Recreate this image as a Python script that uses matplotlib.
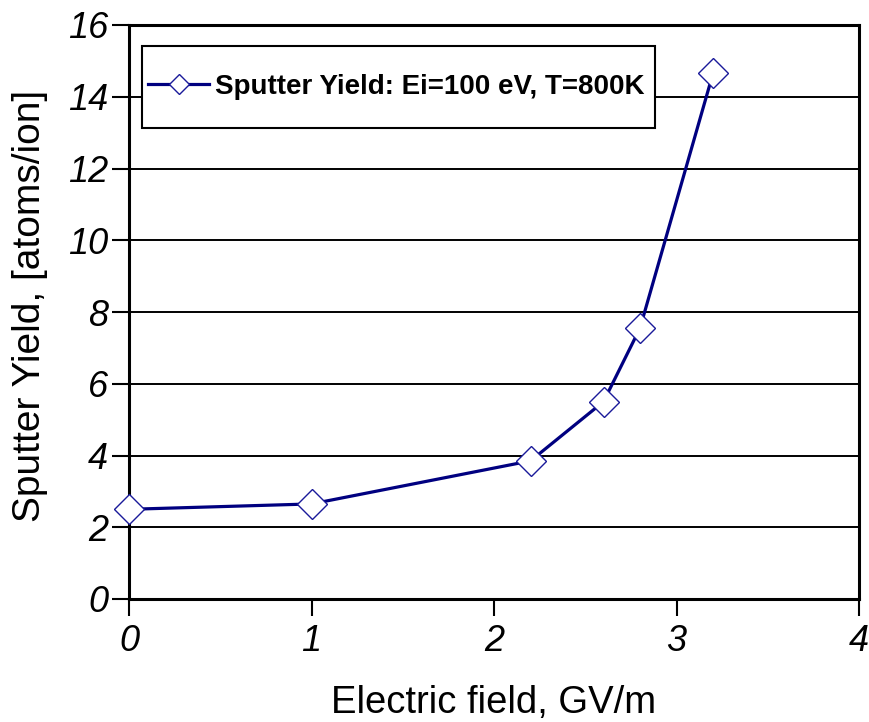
import matplotlib
matplotlib.use("Agg")
import matplotlib.pyplot as plt
from matplotlib.patches import Rectangle

field = [0.0, 1.0, 2.2, 2.6, 2.8, 3.2]
yield_vals = [2.5, 2.65, 3.85, 5.5, 7.55, 14.65]
series_label = "Sputter Yield: Ei=100 eV, T=800K"
x_ticks = [0, 1, 2, 3, 4]
y_ticks = [0, 2, 4, 6, 8, 10, 12, 14, 16]

plt.rcParams['font.family'] = ['Liberation Sans', 'DejaVu Sans']

W, H = 869, 722
fig = plt.figure(figsize=(W/100, H/100), dpi=100)
L, R, T, B = 129, 859, 25, 599
ax = fig.add_axes([L/W, 1-B/H, (R-L)/W, (B-T)/H])

for yv in y_ticks[1:-1]:
    ax.axhline(yv, color='black', lw=1.4, zorder=1)

ax.plot(field, yield_vals, color='#000080', lw=2.3, marker='D', markersize=15,
        markerfacecolor='white', markeredgecolor='#1a1a9a', markeredgewidth=1.0,
        label=series_label, zorder=3, clip_on=False)

ax.set_xlim(0, 4)
ax.set_ylim(0, 16)
ax.set_xticks(x_ticks)
ax.set_yticks(y_ticks)
ax.set_xticklabels([str(v) for v in x_ticks], fontsize=26, style='italic')
ax.set_yticklabels([str(v) for v in y_ticks], fontsize=26, style='italic')
ax.tick_params(axis='both', direction='out', length=12, width=1.5, color='black')
ax.tick_params(axis='y', pad=3)
ax.tick_params(axis='x', pad=6)
for s in ax.spines.values():
    s.set_linewidth(2.2)
    s.set_color('black')

fig.text(30/W, 1-306/H, "Sputter Yield, [atoms/ion]", rotation=90,
         ha='center', va='center', fontsize=28)
fig.text(494/W, 1-713/H, "Electric field, GV/m", ha='center', va='baseline',
         fontsize=27.5)

def axfx(px):
    return (px - L) / (R - L)

def axfy(py):
    return (B - py) / (B - T)

box = Rectangle((axfx(142), axfy(128)), axfx(655) - axfx(142), axfy(46) - axfy(128),
                transform=ax.transAxes, facecolor='white', edgecolor='black',
                lw=1.5, zorder=4, clip_on=False)
ax.add_patch(box)

leg = ax.legend(loc='center left', bbox_to_anchor=(axfx(148), axfy(87)), borderaxespad=0,
                frameon=False, prop={'weight': 'bold', 'size': 20},
                handlelength=2.2, handletextpad=0.2, borderpad=0, markerscale=0.7)
leg.set_zorder(5)

fig.savefig("out.png", dpi=100)
